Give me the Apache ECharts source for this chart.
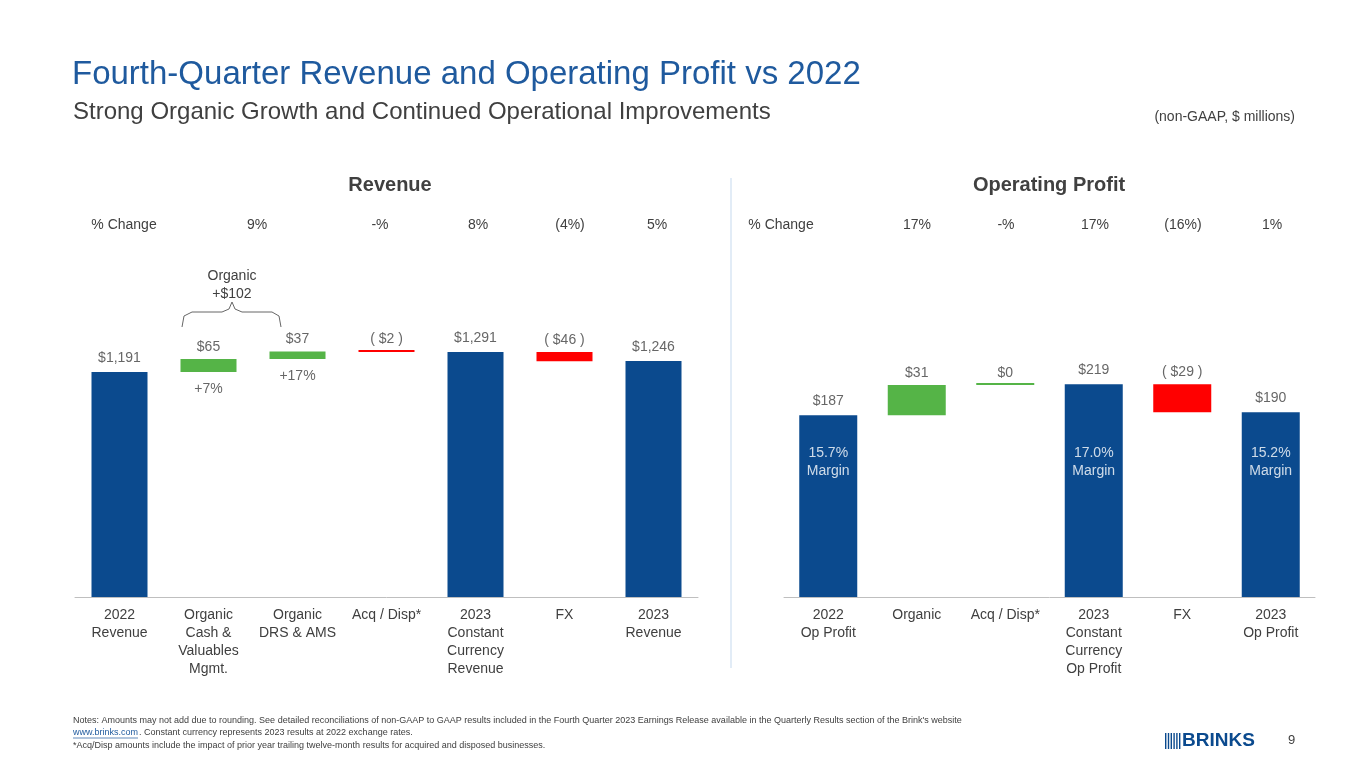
<!DOCTYPE html>
<html><head><meta charset="utf-8">
<script src="https://cdn.jsdelivr.net/npm/echarts@6/dist/echarts.min.js"></script>
<style>html,body{margin:0;padding:0;background:#fff}#c{width:1365px;height:768px}</style>
</head><body><div id="c"></div>
<script>
// ---- data ----
const revCats = ['2022\nRevenue','Organic\nCash &\nValuables\nMgmt.','Organic\nDRS & AMS','Acq / Disp*','2023\nConstant\nCurrency\nRevenue','FX','2023\nRevenue'];
const revTotals = [1191, null, null, null, 1291, null, 1246];
const revDeltas = [null, 65, 37, -2, null, -46, null];
const revTopLabels = ['$1,191','$65','$37','( $2 )','$1,291','( $46 )','$1,246'];
const revBelowLabels = ['', '+7%', '+17%', '', '', '', ''];
const revPct = ['% Change','9%','-%','8%','(4%)','5%'];

const opCats = ['2022\nOp Profit','Organic','Acq / Disp*','2023\nConstant\nCurrency\nOp Profit','FX','2023\nOp Profit'];
const opTotals = [187, null, null, 219, null, 190];
const opDeltas = [null, 31, 0, null, -29, null];
const opTopLabels = ['$187','$31','$0','$219','( $29 )','$190'];
const opMargins = ['15.7%\nMargin','','','17.0%\nMargin','','15.2%\nMargin'];
const opPct = ['% Change','17%','-%','17%','(16%)','1%'];

const BLUE='#0b4a8e', GREEN='#55b447', RED='#ff0000', TXT='#404040';

function build(totals, deltas){
  let run=0; const base=[], tot=[], up=[], down=[], tops=[], bots=[];
  totals.forEach((t,i)=>{
    if(t!=null){ run=t; base.push(0); tot.push(t); up.push(null); down.push(null); tops.push(t); bots.push(t); }
    else { const d=deltas[i];
      if(d>=0){ base.push(run); up.push(d); down.push(null); tops.push(run+d); bots.push(run); run+=d; }
      else { base.push(run+d); down.push(-d); up.push(null); tops.push(run); bots.push(run+d); run+=d; }
      tot.push(null);
    }
  });
  return {base,tot,up,down,tops,bots};
}
const R=build(revTotals,revDeltas), O=build(opTotals,opDeltas);

const F='Liberation Sans, Arial';
const lab = {color:TXT,fontSize:14,fontFamily:F};
function series(idx, B, topLabels, bw){
  return [
    {type:'bar',xAxisIndex:idx,yAxisIndex:idx,stack:'s'+idx,data:B.base,itemStyle:{color:'transparent'},barWidth:bw,silent:true},
    {type:'bar',xAxisIndex:idx,yAxisIndex:idx,stack:'s'+idx,data:B.tot,itemStyle:{color:BLUE},barWidth:bw},
    {type:'bar',xAxisIndex:idx,yAxisIndex:idx,stack:'s'+idx,data:B.up,itemStyle:{color:GREEN},barWidth:bw,barMinHeight:2},
    {type:'bar',xAxisIndex:idx,yAxisIndex:idx,stack:'s'+idx,data:B.down,itemStyle:{color:RED},barWidth:bw,barMinHeight:2},
    {type:'scatter',xAxisIndex:idx,yAxisIndex:idx,symbolSize:0,data:B.tops.map((v,i)=>({value:v,label:{show:true,position:'top',distance:(B.up[i]!=null||B.down[i]!=null)?5:7,formatter:topLabels[i],...lab}}))}
  ];
}
const s = [...series(0,R,revTopLabels,56), ...series(1,O,opTopLabels,58)];
s.push({type:'scatter',xAxisIndex:0,yAxisIndex:0,symbolSize:0,data:R.bots.map((v,i)=>({value:v,label:{show:!!revBelowLabels[i],position:'bottom',distance:10,formatter:revBelowLabels[i],...lab}}))});
s.push({type:'scatter',xAxisIndex:1,yAxisIndex:1,symbolSize:0,data:opMargins.map((m,i)=>({value:m?139:null,label:{show:!!m,formatter:m,color:'#fff',fontSize:14,lineHeight:18,fontFamily:F}}))});

const xa = (cats,gi)=>({type:'category',gridIndex:gi,data:cats,axisTick:{show:false},axisLine:{lineStyle:{color:'#bfbfbf'}},axisLabel:{color:TXT,fontSize:14,lineHeight:18,margin:9,interval:0,fontFamily:F}});
const ya = (gi,min,max)=>({type:'value',gridIndex:gi,min,max,show:false,splitLine:{show:false}});

const T=(x,y,text,font,fill,align)=>({type:'text',x,y,style:{text,fill:fill||TXT,font,textAlign:align||'left',textVerticalAlign:'top'}});
const g=[
  T(72,58,'Fourth-Quarter Revenue and Operating Profit vs 2022','33px '+F,'#1f5a9e'),
  T(73,100,'Strong Organic Growth and Continued Operational Improvements','24px '+F),
  T(1295,110,'(non-GAAP, $ millions)','14px '+F,TXT,'right'),
  T(390,175,'Revenue','bold 20px '+F,TXT,'center'),
  T(1049,175,'Operating Profit','bold 20px '+F,TXT,'center'),
  {type:'line',shape:{x1:731,y1:178,x2:731,y2:668},style:{stroke:'#c5d9ee',lineWidth:1}},
  {type:'text',x:232,y:267,style:{text:'Organic\n+$102',fill:TXT,font:'14px '+F,textAlign:'center',textVerticalAlign:'top',lineHeight:18}},
  {type:'polyline',shape:{points:[[182,327],[184,316],[192,312],[222,312],[229,309],[232,302],[235,309],[242,312],[272,312],[279,316],[281,327]]},style:{stroke:'#666',lineWidth:1,fill:null}},
  T(73,716,"Notes: Amounts may not add due to rounding. See detailed reconciliations of non-GAAP to GAAP results included in the Fourth Quarter 2023 Earnings Release available in the Quarterly Results section of the Brink's website",'9px '+F),
  T(73,728,'www.brinks.com','9px '+F,'#1f5a9e'),
  {type:'line',shape:{x1:73,y1:738,x2:138,y2:738},style:{stroke:'#1f5a9e',lineWidth:0.7}},
  T(139,728,'. Constant currency represents 2023 results at 2022 exchange rates.','9px '+F),
  T(73,741,'*Acq/Disp amounts include the impact of prior year trailing twelve-month results for acquired and disposed businesses.','9px '+F),
  T(1182,731,'BRINKS','bold 19px '+F,BLUE),
  T(1288,734,'9','13px '+F)
];
for(let i=0;i<6;i++) g.push({type:'rect',shape:{x:1165+i*2.8,y:733,width:1.4,height:16},style:{fill:BLUE}});
const revPctX=[124,257,380,478,570,657], opPctX=[781,917,1006,1095,1183,1272];
revPct.forEach((t,i)=>g.push(T(revPctX[i],218,t,'14px '+F,TXT,'center')));
opPct.forEach((t,i)=>g.push(T(opPctX[i],218,t,'14px '+F,TXT,'center')));

const chart=echarts.init(document.getElementById('c'));
chart.setOption({
  animation:false,
  grid:[{left:75,width:623,top:250,height:347},{left:784,width:531,top:250,height:347}],
  xAxis:[xa(revCats,0),xa(opCats,1)],
  yAxis:[ya(0,66,1801),ya(1,0,357)],
  series:s,
  graphic:g
});
</script></body></html>
